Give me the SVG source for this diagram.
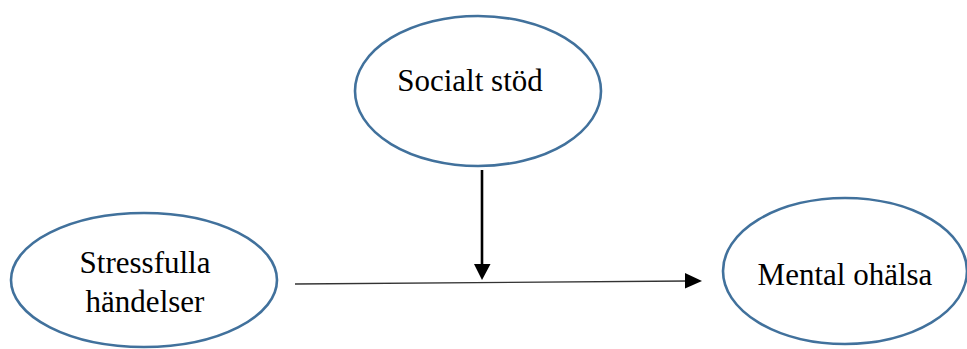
<svg xmlns="http://www.w3.org/2000/svg" width="967" height="349" viewBox="0 0 967 349">
<style>
.node ellipse{fill:#fff;stroke:#41719c;stroke-width:2.6}
.node text{font-family:"Liberation Serif","Times New Roman",serif;font-size:31px;fill:#000;text-anchor:middle}
</style>
<rect width="967" height="349" fill="#fff"/>
<g id="socialt-stod" class="node">
<ellipse cx="478" cy="91" rx="123" ry="75"/>
<text x="470" y="91">Socialt stöd</text>
</g>
<g id="stressfulla-handelser" class="node">
<ellipse cx="144" cy="280" rx="133" ry="67"/>
<text x="145" y="273">Stressfulla</text>
<text x="145" y="312">händelser</text>
</g>
<g id="mental-ohalsa" class="node">
<ellipse cx="845" cy="271" rx="122" ry="73"/>
<text x="845" y="285">Mental ohälsa</text>
</g>
<g id="connectors">
<line x1="295" y1="284" x2="688" y2="281" stroke="#333" stroke-width="1.4"/>
<polygon points="685,273 702,281 685,288.5" fill="#000"/>
<line x1="482" y1="170" x2="482" y2="266" stroke="#000" stroke-width="2.6"/>
<polygon points="474,264 490.5,264 482,280" fill="#000"/>
</g>
</svg>
